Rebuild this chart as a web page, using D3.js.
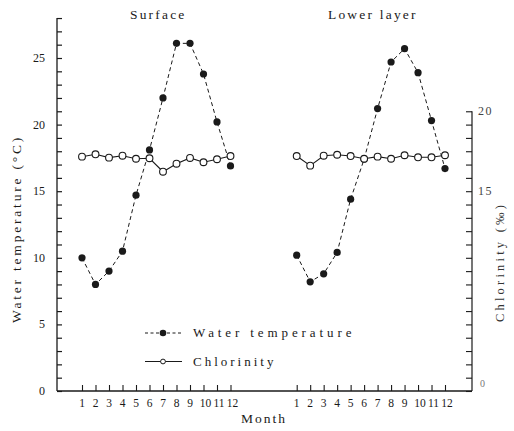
<!DOCTYPE html>
<html><head><meta charset="utf-8">
<script src="https://cdn.jsdelivr.net/npm/d3@7"></script>
<style>
body{margin:0;background:#fff;}
</style></head>
<body><svg id="c" width="514" height="431" font-family="'Liberation Serif','Times New Roman','DejaVu Serif',serif"></svg>
<script>
const months = [1,2,3,4,5,6,7,8,9,10,11,12];
const surfaceTemp = [10.0,8.0,9.0,10.5,14.7,18.1,22.0,26.1,26.1,23.8,20.2,16.9];
const surfaceChl  = [17.16,17.31,17.10,17.22,17.03,17.06,16.22,16.72,17.08,16.81,17.0,17.2];
const lowerTemp   = [10.2,8.2,8.8,10.4,14.4,17.4,21.2,24.7,25.7,23.9,20.3,16.7];
const lowerChl    = [17.2,16.6,17.22,17.28,17.2,17.03,17.16,17.03,17.25,17.12,17.12,17.25];
const tempTicks = [0,5,10,15,20,25];
const chlTicks = [15,20];
const panels = [
  {title:"Surface", temp:surfaceTemp, chl:surfaceChl, x0:82, x1:230.5},
  {title:"Lower layer", temp:lowerTemp, chl:lowerChl, x0:296.7, x1:445}
];

const svg = d3.select("#c");
const ink = "#1a1a1a";
const axL = 57, axR = 472, axB = 391;
const yT = d3.scaleLinear().domain([0,28]).range([axB, axB-28*13.32]);
const yC = d3.scaleLinear().domain([15,20]).range([yT(15), yT(21)]);

// left axis
const gL = svg.append("g").attr("transform",`translate(${axL},0)`)
  .call(d3.axisRight(yT).tickValues(d3.range(0,29)).tickSize(5).tickFormat(""));
gL.select(".domain").attr("stroke",ink).attr("stroke-width",1.3).attr("d",`M0,${yT(28)}V${axB}`);
gL.selectAll(".tick line").attr("stroke",ink).attr("stroke-width",1.2);
svg.selectAll(".tl").data(tempTicks).join("text")
  .attr("x",45).attr("y",d=>yT(d)+4).attr("text-anchor","end").attr("fill",ink)
  .attr("font-size",12).text(d=>d);

// right axis
const gR = svg.append("g").attr("transform",`translate(${axR},0)`)
  .call(d3.axisLeft(yT).tickValues(d3.range(0,22)).tickSize(6).tickFormat(""));
gR.select(".domain").attr("stroke",ink).attr("stroke-width",1.2).attr("d",`M0,${yT(21)}V${axB}`);
gR.selectAll(".tick line").attr("stroke",ink).attr("stroke-width",1.1);
svg.selectAll(".cl").data(chlTicks).join("text")
  .attr("x",478).attr("y",d=>yC(d)+4).attr("font-size",12).attr("fill","#444").attr("letter-spacing",1.5).text(d=>d);
svg.append("text").attr("x",480).attr("y",387).attr("font-size",10).attr("fill","#777").text("0");

// bottom axis line
svg.append("line").attr("x1",axL).attr("x2",axR).attr("y1",axB).attr("y2",axB)
  .attr("stroke",ink).attr("stroke-width",1.4);

panels.forEach((p,i)=>{
  const x = d3.scaleLinear().domain([1,12]).range([p.x0,p.x1]);
  const g = svg.append("g").attr("transform",`translate(0,${axB})`)
    .call(d3.axisTop(x).tickValues(months).tickSize(6).tickFormat(""));
  g.select(".domain").remove();
  g.selectAll(".tick line").attr("stroke",ink).attr("stroke-width",1.1);
  svg.selectAll(".ml"+i).data(months).join("text")
    .attr("x",d=>x(d)+(d>=10?2:0)).attr("y",407).attr("text-anchor","middle").attr("fill",ink)
    .attr("font-size",11.5).text(d=>d);
  svg.append("text").attr("x",(p.x0+p.x1)/2+2).attr("y",19).attr("text-anchor","middle").attr("fill",ink)
    .attr("font-size",13.5).attr("letter-spacing",2.2).text(p.title);

  const lt = d3.line().x((d,j)=>x(months[j])).y(d=>yT(d));
  const lc = d3.line().x((d,j)=>x(months[j])).y(d=>yC(d));
  svg.append("path").attr("d",lt(p.temp)).attr("fill","none").attr("stroke",ink)
    .attr("stroke-width",1).attr("stroke-dasharray","4,3");
  svg.append("path").attr("d",lc(p.chl)).attr("fill","none").attr("stroke",ink).attr("stroke-width",1.1);
  svg.selectAll(".tp"+i).data(p.temp).join("circle")
    .attr("cx",(d,j)=>x(months[j])).attr("cy",d=>yT(d)).attr("r",3.6).attr("fill",ink);
  svg.selectAll(".cp"+i).data(p.chl).join("circle")
    .attr("cx",(d,j)=>x(months[j])).attr("cy",d=>yC(d)).attr("r",3.4)
    .attr("fill","#fff").attr("stroke",ink).attr("stroke-width",1.1);
});

// legend
svg.append("line").attr("x1",145).attr("x2",182).attr("y1",333).attr("y2",333)
  .attr("stroke",ink).attr("stroke-dasharray","3,2.5");
svg.append("circle").attr("cx",163).attr("cy",333).attr("r",3.3).attr("fill",ink);
svg.append("text").attr("x",193).attr("y",337).attr("font-size",13).attr("fill",ink).attr("letter-spacing",3.9).text("Water temperature");
svg.append("line").attr("x1",145).attr("x2",182).attr("y1",361.5).attr("y2",361.5).attr("stroke",ink).attr("stroke-width",1.1);
svg.append("circle").attr("cx",163).attr("cy",361.5).attr("r",2.4).attr("fill","#fff").attr("stroke",ink);
svg.append("text").attr("x",193).attr("y",366).attr("font-size",13).attr("fill",ink).attr("letter-spacing",3).text("Chlorinity");

// axis titles
svg.append("text").attr("x",264).attr("y",423).attr("text-anchor","middle").attr("fill",ink)
  .attr("font-size",13.5).attr("letter-spacing",2).text("Month");
svg.append("text").attr("transform","translate(21,229) rotate(-90)").attr("text-anchor","middle").attr("fill",ink)
  .attr("font-size",13.5).attr("letter-spacing",2.8).text("Water temperature (°C)");
svg.append("text").attr("transform","translate(504,262) rotate(-90)").attr("text-anchor","middle").attr("fill","#333")
  .attr("font-size",12.5).attr("letter-spacing",3.2).text("Chlorinity (‰)");
</script></body></html>
